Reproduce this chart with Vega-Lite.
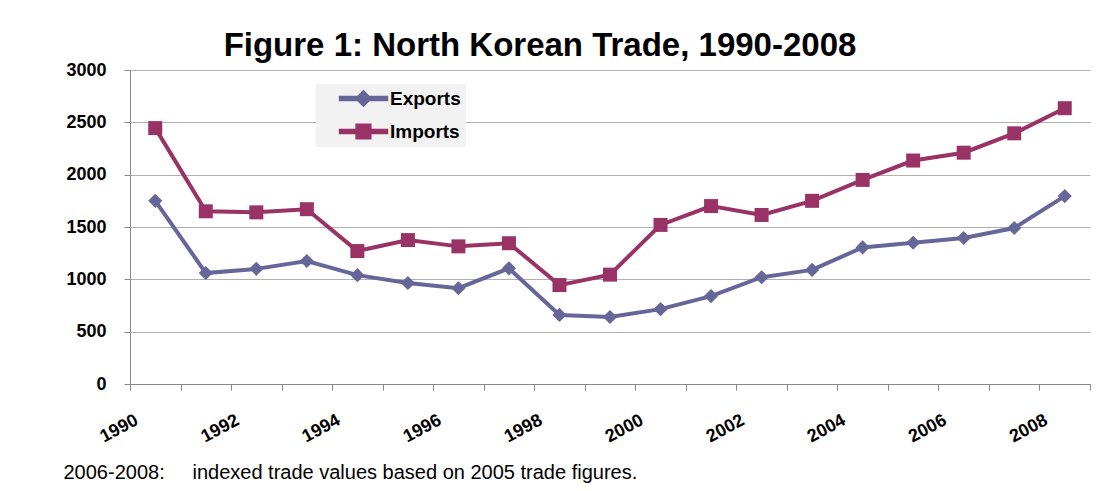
{
  "$schema": "https://vega.github.io/schema/vega-lite/v6.json",
  "width": 960,
  "height": 314,
  "autosize": {"type": "none"},
  "padding": {"left": 130, "top": 70, "right": 17, "bottom": 107},
  "background": "white",
  "config": {
    "font": "Liberation Sans",
    "view": {"stroke": null},
    "axis": {"domainColor": "#888888", "tickColor": "#888888", "gridColor": "#b0b0b0"}
  },
  "title": {
    "text": "Figure 1: North Korean Trade, 1990-2008",
    "fontSize": 33,
    "fontWeight": "bold",
    "font": "Liberation Sans",
    "color": "black",
    "anchor": "middle",
    "dx": -70,
    "baseline": "alphabetic",
    "offset": -28
  },
  "data": {
    "values": [
      {"year": 1990, "series": "Exports", "value": 1750},
      {"year": 1991, "series": "Exports", "value": 1060},
      {"year": 1992, "series": "Exports", "value": 1100},
      {"year": 1993, "series": "Exports", "value": 1175},
      {"year": 1994, "series": "Exports", "value": 1040},
      {"year": 1995, "series": "Exports", "value": 965},
      {"year": 1996, "series": "Exports", "value": 915},
      {"year": 1997, "series": "Exports", "value": 1105},
      {"year": 1998, "series": "Exports", "value": 660},
      {"year": 1999, "series": "Exports", "value": 640},
      {"year": 2000, "series": "Exports", "value": 715},
      {"year": 2001, "series": "Exports", "value": 840},
      {"year": 2002, "series": "Exports", "value": 1020},
      {"year": 2003, "series": "Exports", "value": 1090},
      {"year": 2004, "series": "Exports", "value": 1305},
      {"year": 2005, "series": "Exports", "value": 1350},
      {"year": 2006, "series": "Exports", "value": 1395},
      {"year": 2007, "series": "Exports", "value": 1490},
      {"year": 2008, "series": "Exports", "value": 1795},
      {"year": 1990, "series": "Imports", "value": 2445},
      {"year": 1991, "series": "Imports", "value": 1650},
      {"year": 1992, "series": "Imports", "value": 1640},
      {"year": 1993, "series": "Imports", "value": 1670},
      {"year": 1994, "series": "Imports", "value": 1270},
      {"year": 1995, "series": "Imports", "value": 1375},
      {"year": 1996, "series": "Imports", "value": 1315},
      {"year": 1997, "series": "Imports", "value": 1345},
      {"year": 1998, "series": "Imports", "value": 945},
      {"year": 1999, "series": "Imports", "value": 1045},
      {"year": 2000, "series": "Imports", "value": 1520},
      {"year": 2001, "series": "Imports", "value": 1700},
      {"year": 2002, "series": "Imports", "value": 1615},
      {"year": 2003, "series": "Imports", "value": 1750},
      {"year": 2004, "series": "Imports", "value": 1950},
      {"year": 2005, "series": "Imports", "value": 2135},
      {"year": 2006, "series": "Imports", "value": 2210},
      {"year": 2007, "series": "Imports", "value": 2395},
      {"year": 2008, "series": "Imports", "value": 2635}
    ]
  },
  "encoding": {
    "x": {
      "field": "year",
      "type": "ordinal",
      "bandPosition": 0.5,
      "scale": {"type": "band", "paddingInner": 0, "paddingOuter": 0},
      "axis": {
        "title": "2006-2008:\u00a0\u00a0\u00a0\u00a0\u00a0indexed trade values based on 2005 trade figures.",
        "titleFont": "Liberation Sans",
        "titleFontSize": 20,
        "titleFontWeight": "normal",
        "titleColor": "black",
        "titleAlign": "left",
        "titleAnchor": "start",
        "titleBaseline": "alphabetic",
        "titleX": -67,
        "titleY": 94,
        "tickBand": "extent",
        "tickSize": 6,
        "grid": false,
        "labelAngle": -28,
        "labelAlign": "right",
        "labelBaseline": "top",
        "labelOffset": -23,
        "labelPadding": 21,
        "labelFontSize": 18,
        "labelFontWeight": "bold",
        "labelColor": "black",
        "labelOverlap": false,
        "labelExpr": "datum.value % 2 == 0 ? datum.label : ''"
      }
    },
    "y": {
      "field": "value",
      "type": "quantitative",
      "scale": {"domain": [0, 3000], "nice": false},
      "axis": {
        "title": null,
        "values": [0, 500, 1000, 1500, 2000, 2500, 3000],
        "format": "d",
        "grid": true,
        "tickSize": 6,
        "labelPadding": 18,
        "labelFontSize": 18,
        "labelFontWeight": "bold",
        "labelColor": "black",
        "labelBaseline": "middle"
      }
    },
    "color": {
      "field": "series",
      "type": "nominal",
      "scale": {"domain": ["Exports", "Imports"], "range": ["#666699", "#993366"]},
      "legend": {
        "title": null,
        "orient": "none",
        "legendX": 186,
        "legendY": 14,
        "fillColor": "#f2f2f2",
        "padding": 5,
        "rowPadding": 11,
        "symbolSize": 196,
        "labelOffset": 50,
        "labelFontSize": 19,
        "labelFontWeight": "bold",
        "labelColor": "black"
      }
    }
  },
  "layer": [
    {
      "mark": {"type": "line", "strokeWidth": 4}
    },
    {
      "transform": [{"filter": "datum.year < 0"}],
      "mark": {"type": "point", "filled": true, "opacity": 1},
      "encoding": {
        "shape": {
          "field": "series",
          "type": "nominal",
          "scale": {
            "domain": ["Exports", "Imports"],
            "range": [
              "M1.29,-0.27L8.14,-0.27L8.14,0.27L1.29,0.27ZM4.71,-1.1L5.81,0L4.71,1.1L3.61,0Z",
              "M1.29,-0.27L8.14,-0.27L8.14,0.27L1.29,0.27ZM3.66,-1.05L5.76,-1.05L5.76,1.05L3.66,1.05Z"
            ]
          },
          "legend": null
        }
      }
    },
    {
      "transform": [{"filter": "datum.series === 'Exports'"}],
      "mark": {"type": "point", "filled": true, "opacity": 1, "size": 200, "shape": "diamond"},
      "encoding": {"color": {"value": "#666699"}}
    },
    {
      "transform": [{"filter": "datum.series === 'Imports'"}],
      "mark": {"type": "point", "filled": true, "opacity": 1, "size": 196, "shape": "square"},
      "encoding": {"color": {"value": "#993366"}}
    }
  ]
}
